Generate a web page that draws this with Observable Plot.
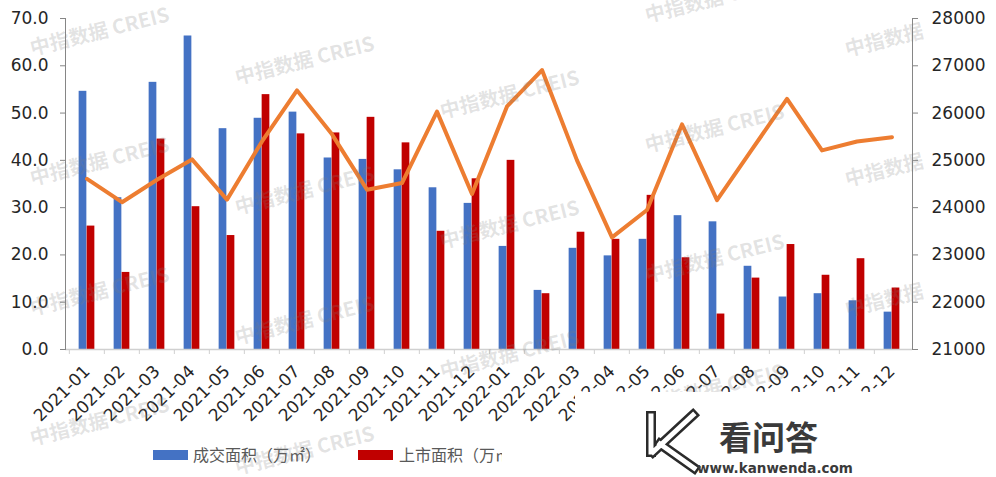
<!DOCTYPE html>
<html><head><meta charset="utf-8">
<script src="https://cdn.jsdelivr.net/npm/d3@7"></script>
<script src="https://cdn.jsdelivr.net/npm/@observablehq/plot@0.6"></script>
<style>
body{margin:0;background:#fff;}
#wrap{position:relative;width:996px;height:477px;overflow:hidden;background:#fff;}
#chart svg{display:block;}
#legend{position:relative;height:52px;font-family:"Noto Sans CJK SC","Noto Sans",sans-serif;font-size:16px;color:#595959;}
.sw{position:absolute;top:25px;width:35px;height:10px;}
.lt{position:absolute;top:18px;line-height:22px;white-space:nowrap;}
#overlay{position:absolute;left:0;top:0;pointer-events:none;}
</style></head><body>
<div id="wrap">
  <div id="chart"></div>
  <div id="legend"></div>
  <svg id="overlay" width="996" height="477"></svg>
</div>
<script>
const months = ["2021-01","2021-02","2021-03","2021-04","2021-05","2021-06","2021-07","2021-08","2021-09","2021-10","2021-11","2021-12",
                "2022-01","2022-02","2022-03","2022-04","2022-05","2022-06","2022-07","2022-08","2022-09","2022-10","2022-11","2022-12"];
const dealArea   = [54.6, 32.1, 56.5, 66.3, 46.7, 48.9, 50.2, 40.5, 40.2, 38.0, 34.2, 30.9,
                    21.8, 12.5, 21.4, 19.8, 23.3, 28.3, 27.0, 17.6, 11.1, 11.8, 10.3, 7.9];
const listedArea = [26.1, 16.3, 44.5, 30.2, 24.1, 53.9, 45.6, 45.8, 49.1, 43.7, 25.0, 36.1,
                    40.0, 11.8, 24.8, 23.3, 32.6, 19.4, 7.5, 15.1, 22.2, 15.7, 19.2, 13.0];
const avgPrice   = [24610, 24115, 24590, 25020, 24170, 25400, 26480, 25550, 24380, 24520, 26030, 24290,
                    26140, 26910, 25000, 23370, 23950, 25760, 24160, 25230, 26300, 25210, 25400, 25490];
const leftTicks  = [0, 10, 20, 30, 40, 50, 60, 70];
const rightTicks = [21000, 22000, 23000, 24000, 25000, 26000, 27000, 28000];
const seriesNames = ["成交面积（万㎡）", "上市面积（万㎡）"];
const colors = ["#4472C4", "#C00000", "#ED7D31"];
const watermarkText = "中指数据 CREIS";

const W = 996, H = 425, ML = 65, MR = 84, MT = 18, MB = 76;
const bw = (W - ML - MR) / months.length;
const rMin = rightTicks[0], rMax = rightTicks[rightTicks.length - 1];
const lMax = leftTicks[leftTicks.length - 1];
const toLeft = p => (p - rMin) / (rMax - rMin) * lMax;
const rows = months.map((m, i) => ({month: m, deal: dealArea[i], listed: listedArea[i], price: avgPrice[i]}));
const tickLen = 5 / ((H - MT - MB) / lMax); // 5px in data units

const chart = Plot.plot({
  width: W, height: H,
  marginLeft: ML, marginRight: MR, marginTop: MT, marginBottom: MB,
  style: {fontFamily: "'DejaVu Sans', sans-serif", fontSize: "17px", color: "#262626", background: "#fff", overflow: "visible"},
  x: {type: "band", domain: months, padding: 0, label: null},
  y: {type: "linear", domain: [0, lMax], label: null},
  marks: [
    Plot.barY(rows, {x: "month", y: "deal", fill: colors[0], insetLeft: bw / 2 - 8, insetRight: bw / 2}),
    Plot.barY(rows, {x: "month", y: "listed", fill: colors[1], insetLeft: bw / 2, insetRight: bw / 2 - 8}),
    Plot.ruleY([0], {stroke: "#d0d0d0", strokeWidth: 1.5}),
    Plot.ruleX(months, {x: d => d, y1: 0, y2: -tickLen, dx: -bw / 2, stroke: "#d0d0d0"}),
    Plot.frame({anchor: "left", stroke: "#868686"}),
    Plot.frame({anchor: "right", stroke: "#868686"}),
    Plot.axisY(leftTicks, {anchor: "left", tickSize: 5, tickPadding: 12, stroke: "#868686", fill: "#262626",
      tickFormat: d => d.toFixed(1), label: null}),
    Plot.axisY(leftTicks, {anchor: "right", tickSize: 5, tickPadding: 14, stroke: "#868686", fill: "#262626",
      tickFormat: (d, i) => String(rightTicks[i]), label: null}),
    Plot.axisX({tickSize: 0, tickRotate: -45, tickPadding: 19, dx: 0, fill: "#262626", label: null}),
    Plot.line(rows, {x: "month", y: d => toLeft(d.price), stroke: colors[2], strokeWidth: 4,
      strokeLinejoin: "round", strokeLinecap: "round"})
  ]
});
document.getElementById("chart").append(chart);

// legend
const legend = document.getElementById("legend");
[[153, 193], [358, 399]].forEach(([sx, tx], i) => {
  const sw = document.createElement("div");
  sw.className = "sw"; sw.style.left = sx + "px"; sw.style.background = colors[i];
  const t = document.createElement("div");
  t.className = "lt"; t.style.left = tx + "px"; t.textContent = seriesNames[i];
  legend.append(sw, t);
});

// watermark + logo overlay
const ov = d3.select("#overlay");
ov.append("defs").append("clipPath").attr("id", "wmclip")
  .append("rect").attr("x", 0).attr("y", 0).attr("width", 925).attr("height", 477);
const wmCols = [100, 305, 510, 715, 915];
const wmStart = [33, 62, 96, 0, 34];
const g = ov.append("g").attr("clip-path", "url(#wmclip)");
wmCols.forEach((cx, ci) => {
  for (let cy = wmStart[ci]; cy < 460; cy += 130) {
    g.append("text").attr("x", cx).attr("y", cy)
      .attr("transform", `rotate(-14 ${cx} ${cy})`)
      .attr("text-anchor", "middle").attr("dominant-baseline", "middle")
      .attr("font-family", "'Noto Sans CJK SC', sans-serif").attr("font-weight", "bold")
      .attr("font-size", 20).attr("fill", "#7f7f7f").attr("fill-opacity", 0.22)
      .text(watermarkText);
  }
});
const logo = ov.append("g");
logo.append("rect").attr("x", 575).attr("y", 392).attr("width", 421).attr("height", 85).attr("fill", "#fff");
logo.append("rect").attr("x", 502).attr("y", 430).attr("width", 494).attr("height", 47).attr("fill", "#fff");
const kPath = "M651,416 L651,452 M653,452 L693,415 M660,444 L694,468";
logo.append("path").attr("d", kPath).attr("stroke", "#2b2b2b").attr("stroke-width", 10).attr("fill", "none").attr("stroke-linecap", "square");
logo.append("path").attr("d", kPath).attr("stroke", "#fff").attr("stroke-width", 5).attr("fill", "none").attr("stroke-linecap", "square");
logo.append("text").attr("x", 719).attr("y", 450).attr("font-family", "'Noto Sans CJK SC', sans-serif")
  .attr("font-weight", "bold").attr("font-size", 33).attr("fill", "#3a3a3a").text("看问答");
logo.append("text").attr("x", 697).attr("y", 473).attr("font-family", "'DejaVu Sans', sans-serif")
  .attr("font-weight", "bold").attr("font-size", 13.5).attr("fill", "#3a3a3a").text("www.kanwenda.com");
</script>
</body></html>
